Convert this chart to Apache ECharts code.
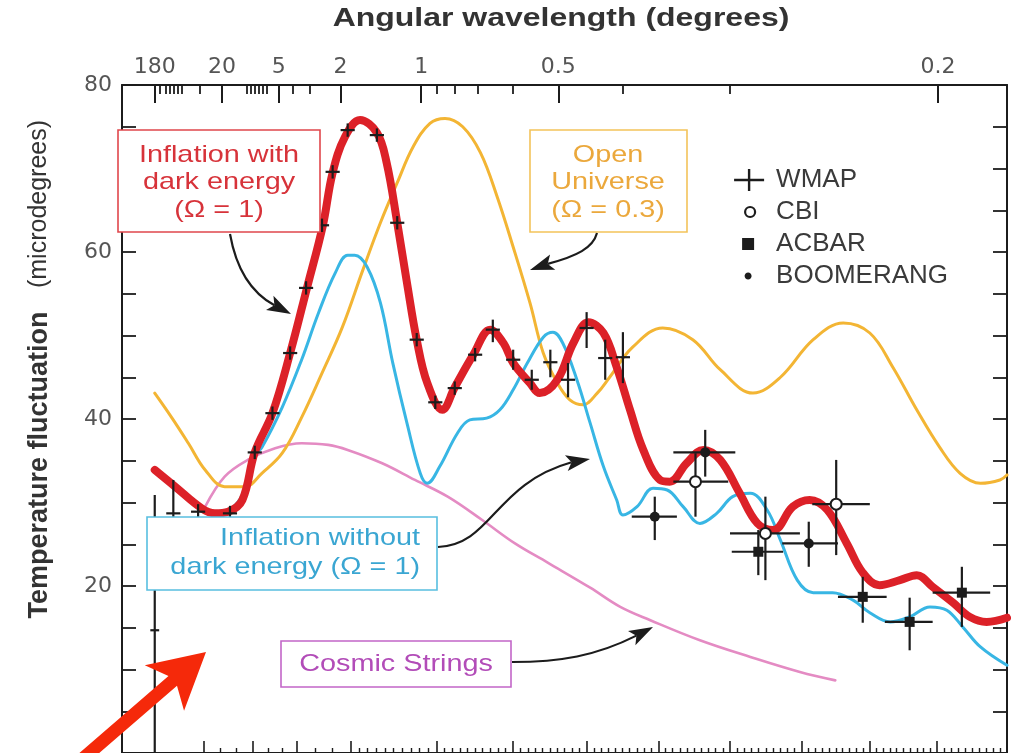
<!DOCTYPE html>
<html>
<head>
<meta charset="utf-8">
<title>CMB temperature fluctuations</title>
<script src="https://cdn.jsdelivr.net/npm/echarts@6/dist/echarts.min.js"></script>
<style>
  html, body { margin: 0; padding: 0; background: #ffffff; }
  #chart { width: 1015px; height: 753px; }
</style>
</head>
<body>
<div id="chart"></div>
<script>
// Horizontal axis: position along the multipole scale, 0-100 across the frame
// (log-like at large angles, linear in multipole at small angles).

// Top axis: angular wavelength in degrees
const angleTicks = [3.7, 11.3, 17.7, 24.7, 33.8, 49.3, 92.2];
const angleLabels = ['180', '20', '5', '2', '1', '0.5', '0.2'];
const angleMinorTicks = [4.3, 4.9, 5.4, 5.8, 6.3, 6.7, 8.8, 14.1, 14.6, 15.0, 15.5, 15.9, 16.4,
  19.3, 21.2, 35.6, 37.6, 40.2, 44.2, 56.6, 68.7];

// Bottom axis: multipole ticks
const multipoleTicks = [9.2, 14.8, 19.8, 25.8, 35.6, 44.2, 52.5, 60.6, 68.7, 76.8, 84.5, 92.1, 100];

// Model curves: [position, microdegrees]
const darkEnergy = [
  [3.7, 33.9], [6.0, 31.9], [9.0, 29.3], [10.5, 28.7], [12.0, 28.9], [13.6, 30.3], [15.0, 36.0],
  [17.0, 40.7], [19.0, 47.9], [20.9, 55.7], [22.7, 63.2], [23.8, 69.5], [25.2, 73.8], [26.9, 75.8],
  [28.8, 74.3], [29.9, 70.7], [31.1, 63.5], [32.2, 56.3], [33.3, 49.5], [34.5, 44.3], [36.2, 41.1],
  [37.6, 43.8], [39.7, 47.7], [41.6, 50.7], [43.1, 49.1], [44.2, 46.7], [46.1, 44.3], [47.2, 43.1],
  [49.2, 44.7], [51.0, 49.1], [52.7, 51.6], [54.4, 50.3], [55.9, 46.2], [57.4, 41.1], [58.9, 36.3],
  [60.8, 32.7], [61.9, 32.5], [63.8, 34.7], [65.7, 36.3], [67.6, 35.1], [69.8, 31.1], [71.8, 27.5],
  [73.6, 26.7], [75.8, 29.5], [77.7, 30.3], [79.7, 29.1], [81.9, 25.1], [83.7, 21.6], [85.6, 20.1],
  [87.9, 20.7], [89.8, 21.3], [91.6, 19.9], [93.9, 18.0], [95.8, 16.3], [97.7, 15.7], [100, 16.2]
];
const noDarkEnergy = [
  [3.7, 33.9], [6.0, 31.9], [9.0, 29.3], [10.5, 28.7], [12.0, 29.0], [13.6, 30.9], [15.0, 35.7],
  [15.8, 36.6], [18.1, 41.4], [20.3, 47.1], [22.2, 52.7], [24.1, 57.5], [25.5, 59.6], [26.3, 59.6],
  [27.7, 58.2], [29.2, 53.9], [30.6, 46.7], [32.2, 39.5], [33.7, 33.5], [34.5, 32.3], [35.9, 34.3],
  [37.9, 38.3], [39.3, 39.9], [41.2, 40.1], [42.7, 41.1], [44.2, 43.5], [45.8, 46.7], [47.6, 49.8],
  [48.7, 50.4], [49.8, 49.1], [51.4, 44.7], [52.9, 39.5], [54.4, 34.3], [55.9, 30.3], [56.6, 28.5],
  [58.2, 29.5], [60.0, 31.7], [61.6, 31.5], [63.4, 29.5], [65.3, 27.5], [67.2, 28.7], [69.0, 30.7],
  [71.0, 31.1], [72.9, 29.1], [74.4, 25.5], [76.3, 20.7], [78.1, 19.2], [80.3, 19.2], [82.6, 18.3],
  [84.5, 16.8], [86.8, 15.7], [89.0, 16.3], [91.3, 17.5], [93.2, 17.1], [95.0, 15.1], [97.0, 12.7],
  [100, 10.5]
];
const openUniverse = [
  [3.7, 43.1], [5.6, 40.2], [7.5, 37.1], [9.4, 33.9], [11.6, 31.9], [13.9, 31.9], [15.8, 33.5],
  [18.1, 35.9], [20.3, 40.2], [22.6, 45.5], [24.9, 51.0], [27.2, 57.8], [29.2, 63.5], [31.1, 68.3],
  [32.9, 72.6], [34.8, 75.4], [36.5, 76.0], [38.5, 75.0], [40.5, 71.9], [42.4, 66.6], [44.2, 60.6],
  [46.1, 53.9], [47.6, 47.9], [49.2, 44.3], [50.6, 42.3], [52.1, 41.7], [53.7, 43.1], [55.1, 45.0],
  [57.7, 48.6], [61.1, 50.9], [64.5, 49.5], [67.6, 45.9], [71.3, 43.1], [74.4, 45.0], [78.1, 49.5],
  [81.5, 51.5], [84.5, 50.3], [87.1, 46.2], [89.8, 41.1], [92.4, 36.6], [94.7, 33.5], [97.0, 32.3],
  [99.2, 32.7], [100, 33.3]
];
const cosmicStrings = [
  [9.4, 29.5], [11.6, 33.1], [14.2, 35.1], [17.3, 36.5], [20.3, 37.1], [23.3, 36.9], [25.5, 36.3],
  [29.4, 34.7], [33.1, 32.7], [36.8, 30.7], [40.7, 27.9], [44.4, 25.1], [48.1, 22.8], [52.9, 19.8],
  [56.3, 17.5], [59.7, 15.9], [65.3, 13.5], [71.0, 11.5], [76.6, 9.7], [80.6, 8.7]
];

// Measurements: [position, value, posLow, posHigh, valueLow, valueHigh]
const wmap = [
  [3.7, 14.7, 3.2, 4.2, 0, 30.9], [5.8, 28.7, 5.0, 6.6, 24.8, 32.7], [8.6, 28.9, 7.8, 9.4, 28.0, 29.8],
  [12.2, 28.7, 11.4, 13.0, 27.8, 29.6], [15.0, 36.0, 14.2, 15.8, 35.2, 36.8],
  [17.0, 40.7, 16.2, 17.8, 39.9, 41.5], [19.0, 47.9, 18.2, 19.8, 47.1, 48.7],
  [20.8, 55.7, 20.0, 21.6, 54.9, 56.5], [22.6, 63.2, 21.8, 23.4, 62.4, 64.0],
  [23.8, 69.6, 23.0, 24.6, 68.8, 70.4], [25.5, 74.6, 24.7, 26.3, 73.8, 75.4],
  [28.8, 74.0, 28.0, 29.6, 73.2, 74.8], [31.1, 63.5, 30.3, 31.9, 62.7, 64.3],
  [33.3, 49.5, 32.5, 34.1, 48.7, 50.3], [35.4, 42.0, 34.6, 36.2, 41.2, 42.8],
  [37.6, 43.7, 36.8, 38.4, 42.9, 44.5], [39.9, 47.7, 39.1, 40.7, 46.9, 48.5],
  [41.9, 50.7, 41.1, 42.7, 49.2, 51.9], [44.2, 47.1, 43.4, 45.0, 45.9, 48.3],
  [46.3, 44.7, 45.5, 47.1, 43.5, 45.9], [48.4, 46.8, 47.6, 49.2, 45.0, 48.3],
  [50.4, 44.7, 49.6, 51.2, 42.6, 46.7], [52.5, 50.9, 51.7, 53.3, 48.5, 52.8],
  [54.6, 47.3, 53.8, 55.4, 44.7, 49.5], [56.6, 47.4, 55.8, 57.4, 44.3, 50.4]
];
const cbi = [
  [64.8, 32.5, 62.3, 68.5, 28.3, 35.9], [72.7, 26.3, 68.7, 76.6, 20.7, 30.7],
  [80.7, 29.8, 78.0, 84.5, 23.7, 35.1]
];
const acbar = [
  [71.9, 24.1, 68.9, 74.7, 21.3, 26.7], [83.7, 18.7, 80.9, 86.4, 15.6, 21.1],
  [89.0, 15.7, 86.2, 91.6, 12.3, 18.6], [94.9, 19.2, 91.6, 98.1, 15.1, 22.3]
];
const boomerang = [
  [60.2, 28.3, 57.6, 62.7, 25.5, 30.7], [65.9, 36.0, 62.3, 69.3, 33.1, 38.7],
  [77.6, 25.1, 74.6, 80.9, 22.3, 27.7]
];

const INK = '#1c1c1c';
const SANS = '"Liberation Sans", Arial, Helvetica, sans-serif';
const TICK_FONT = '"DejaVu Sans", sans-serif';

// Error bars plus a marker, drawn through the axes' coordinate system
function errorBarRenderer(marker) {
  return function (params, api) {
    const c = api.coord([api.value(0), api.value(1)]);
    const xl = api.coord([api.value(2), api.value(1)]);
    const xh = api.coord([api.value(3), api.value(1)]);
    const yl = api.coord([api.value(0), api.value(4)]);
    const yh = api.coord([api.value(0), api.value(5)]);
    const stroke = { stroke: INK, lineWidth: 2.2 };
    const children = [
      { type: 'line', shape: { x1: xl[0], y1: c[1], x2: xh[0], y2: c[1] }, style: stroke },
      { type: 'line', shape: { x1: c[0], y1: yl[1], x2: c[0], y2: yh[1] }, style: stroke }
    ];
    if (marker === 'open') {
      children.push({ type: 'circle', shape: { cx: c[0], cy: c[1], r: 5.5 },
        style: { fill: '#ffffff', stroke: INK, lineWidth: 2 } });
    } else if (marker === 'square') {
      children.push({ type: 'rect', shape: { x: c[0] - 5, y: c[1] - 5, width: 10, height: 10 },
        style: { fill: INK } });
    } else if (marker === 'dot') {
      children.push({ type: 'circle', shape: { cx: c[0], cy: c[1], r: 5 }, style: { fill: INK } });
    }
    return { type: 'group', children: children };
  };
}

function measurementSeries(name, data, marker) {
  return {
    name: name, type: 'custom', data: data, z: 6, clip: false,
    encode: { x: 0, y: 1 },
    itemStyle: { color: INK },
    renderItem: errorBarRenderer(marker)
  };
}

function curveSeries(name, data, color, width, z) {
  return {
    name: name, type: 'line', data: data, z: z, smooth: 0.38,
    showSymbol: false, symbol: 'none', silent: true,
    lineStyle: { color: color, width: width, cap: 'round', join: 'round' }
  };
}

// Labelled boxes for the model curves
function labelBox(rect, border, color, lines, anchor) {
  const items = [{
    type: 'rect', shape: rect, z: 20,
    style: { fill: '#ffffff', stroke: border, lineWidth: 1.6 }
  }];
  lines.forEach(function (ln) {
    items.push({
      type: 'text', x: ln[1], y: ln[2], scaleX: 1.2, z: 21,
      style: { text: ln[0], fill: color, fontSize: 24, fontFamily: SANS,
        align: anchor, verticalAlign: 'middle', x: 0, y: 0 }
    });
  });
  return items;
}

// Curved black pointer from a label to its curve
function pointer(p0, c1, c2, p3, tip) {
  const dx = tip[0] - p3[0], dy = tip[1] - p3[1];
  const len = Math.hypot(dx, dy);
  const ux = dx / len, uy = dy / len, nx = -uy, ny = ux;
  const L = 24, W = 8;
  const bx = tip[0] - L * ux, by = tip[1] - L * uy;
  const notch = [tip[0] - 0.78 * L * ux, tip[1] - 0.78 * L * uy];
  return [
    { type: 'bezierCurve', z: 22,
      shape: { x1: p0[0], y1: p0[1], cpx1: c1[0], cpy1: c1[1], cpx2: c2[0], cpy2: c2[1], x2: notch[0], y2: notch[1] },
      style: { stroke: INK, lineWidth: 2.2, fill: null } },
    { type: 'polygon', z: 22,
      shape: { points: [tip, [bx + W * nx, by + W * ny], notch, [bx - W * nx, by - W * ny]] },
      style: { fill: INK } }
  ];
}

// Large red call-out arrow in the lower left corner
function bigArrow(tail, tip) {
  const dx = tip[0] - tail[0], dy = tip[1] - tail[1];
  const len = Math.hypot(dx, dy);
  const ux = dx / len, uy = dy / len, nx = -uy, ny = ux;
  const L = 55, W = 30, S = 6.5;
  const b = [tip[0] - L * ux, tip[1] - L * uy];
  const n = [tip[0] - 0.8 * L * ux, tip[1] - 0.8 * L * uy];
  return {
    type: 'polygon', z: 30,
    shape: { points: [
      tip,
      [b[0] + W * nx, b[1] + W * ny],
      [n[0] + S * nx, n[1] + S * ny],
      [tail[0] + S * nx, tail[1] + S * ny],
      [tail[0] - S * nx, tail[1] - S * ny],
      [n[0] - S * nx, n[1] - S * ny],
      [b[0] - W * nx, b[1] - W * ny]
    ] },
    style: { fill: '#f5290a' }
  };
}

// Minor multipole ticks between the labelled ones
const multipoleMinorTicks = [];
for (let i = 0; i < multipoleTicks.length - 1; i++) {
  const a = multipoleTicks[i], b = multipoleTicks[i + 1];
  const parts = a < 25 ? 3 : 10;
  for (let k = 1; k < parts; k++) multipoleMinorTicks.push(+(a + (b - a) * k / parts).toFixed(2));
}

const axisLineStyle = { color: INK, width: 2 };

const option = {
  animation: false,
  backgroundColor: '#ffffff',
  grid: { left: 122, right: 8, top: 85, bottom: 0, containLabel: false, outerBoundsMode: 'none' },
  xAxis: [
    { type: 'value', min: 0, max: 100, position: 'bottom',
      axisLine: { show: true, onZero: false, lineStyle: axisLineStyle },
      axisTick: { show: true, inside: true, length: 12, customValues: multipoleTicks, lineStyle: { color: INK, width: 1.6 } },
      axisLabel: { show: false }, splitLine: { show: false } },
    { type: 'value', min: 0, max: 100, position: 'bottom',
      axisLine: { show: false, onZero: false },
      axisTick: { show: true, inside: true, length: 5, customValues: multipoleMinorTicks, lineStyle: { color: INK, width: 1.4 } },
      axisLabel: { show: false }, splitLine: { show: false } },
    { type: 'value', min: 0, max: 100, position: 'top',
      axisLine: { show: true, onZero: false, lineStyle: axisLineStyle },
      axisTick: { show: true, inside: true, length: 18, customValues: angleTicks, lineStyle: { color: INK, width: 2 } },
      axisLabel: { show: true, customValues: angleTicks, margin: 7, fontSize: 22, color: '#555555', fontFamily: TICK_FONT,
        formatter: function (v) { return angleLabels[angleTicks.indexOf(v)]; } },
      splitLine: { show: false } },
    { type: 'value', min: 0, max: 100, position: 'top',
      axisLine: { show: false, onZero: false },
      axisTick: { show: true, inside: true, length: 9, customValues: angleMinorTicks, lineStyle: { color: INK, width: 1.8 } },
      axisLabel: { show: false }, splitLine: { show: false } }
  ],
  yAxis: [
    { type: 'value', min: 0, max: 80, interval: 5, position: 'left',
      axisLine: { show: true, onZero: false, lineStyle: axisLineStyle },
      axisTick: { show: true, inside: true, length: 14, lineStyle: { color: INK, width: 1.8 } },
      axisLabel: { margin: 10, fontSize: 22, color: '#555555', fontFamily: TICK_FONT,
        formatter: function (v) { return (v > 0 && v % 20 === 0) ? String(v) : ''; } },
      splitLine: { show: false } },
    { type: 'value', min: 0, max: 80, interval: 5, position: 'right',
      axisLine: { show: true, onZero: false, lineStyle: axisLineStyle },
      axisTick: { show: true, inside: true, length: 14, lineStyle: { color: INK, width: 1.8 } },
      axisLabel: { show: false }, splitLine: { show: false } }
  ],
  legend: {
    orient: 'vertical', left: 728, top: 162, itemWidth: 30, itemHeight: 22, itemGap: 6,
    selectedMode: false,
    textStyle: { fontSize: 26, lineHeight: 26, color: '#3a3a3a', fontFamily: SANS, padding: [0, 0, 0, 7] },
    data: [
      { name: 'WMAP', icon: 'path://M13.8,0h2.4v9.8h13.8v2.4h-13.8v9.8h-2.4v-9.8h-13.8v-2.4h13.8z',
        itemStyle: { color: INK, borderWidth: 0 } },
      { name: 'CBI',
        icon: 'path://M0,0M30,22M21,11C21,13.76 18.76,16 16,16C13.24,16 11,13.76 11,11C11,8.24 13.24,6 16,6C18.76,6 21,8.24 21,11z',
        itemStyle: { color: '#ffffff', borderColor: INK, borderWidth: 2.2 } },
      { name: 'ACBAR', icon: 'path://M0,0M30,22M8,5h12v12h-12z',
        itemStyle: { color: INK, borderWidth: 0 } },
      { name: 'BOOMERANG',
        icon: 'path://M0,0M30,22M17.5,11C17.5,12.93 15.93,14.5 14,14.5C12.07,14.5 10.5,12.93 10.5,11C10.5,9.07 12.07,7.5 14,7.5C15.93,7.5 17.5,9.07 17.5,11z',
        itemStyle: { color: INK, borderWidth: 0 } }
    ]
  },
  series: [
    curveSeries('Cosmic Strings', cosmicStrings, '#e48bc3', 2.6, 1),
    curveSeries('Open Universe', openUniverse, '#f3b534', 3, 2),
    curveSeries('Inflation without dark energy', noDarkEnergy, '#38b6e4', 3, 3),
    curveSeries('Inflation with dark energy', darkEnergy, '#dc2128', 8, 4),
    measurementSeries('WMAP', wmap, 'cross'),
    measurementSeries('CBI', cbi, 'open'),
    measurementSeries('ACBAR', acbar, 'square'),
    measurementSeries('BOOMERANG', boomerang, 'dot')
  ],
  graphic: [].concat(
    [{ type: 'text', x: 561, y: 19, scaleX: 1.23, z: 20,
       style: { text: 'Angular wavelength (degrees)', x: 0, y: 0, fill: '#333333',
         fontSize: 26, fontWeight: 'bold', fontFamily: SANS, align: 'center', verticalAlign: 'middle' } },
     { type: 'text', x: 40, y: 465, rotation: Math.PI / 2, z: 20,
       style: { text: 'Temperature fluctuation', x: 0, y: 0, fill: '#333333',
         fontSize: 27, fontWeight: 'bold', fontFamily: SANS, align: 'center', verticalAlign: 'middle' } },
     { type: 'text', x: 39, y: 204, rotation: Math.PI / 2, z: 20,
       style: { text: '(microdegrees)', x: 0, y: 0, fill: '#333333',
         fontSize: 25, fontFamily: SANS, align: 'center', verticalAlign: 'middle' } }],
    labelBox({ x: 118, y: 130, width: 202, height: 102 }, '#e0474c', '#d7333a',
      [['Inflation with', 219, 155], ['dark energy', 219, 182], ['(\u03A9 = 1)', 219, 210]], 'center'),
    labelBox({ x: 530, y: 130, width: 157, height: 102 }, '#f3c35a', '#eba83c',
      [['Open', 608, 155], ['Universe', 608, 182], ['(\u03A9 = 0.3)', 608, 210]], 'center'),
    labelBox({ x: 147, y: 517, width: 290, height: 73 }, '#58bfe0', '#3aa6d2',
      [['Inflation without', 420, 538], ['dark energy (\u03A9 = 1)', 420, 567]], 'right'),
    labelBox({ x: 281, y: 641, width: 230, height: 46 }, '#c266c8', '#b24cb8',
      [['Cosmic Strings', 396, 664]], 'center'),
    pointer([230, 234], [236, 268], [250, 292], [270, 303], [291, 314]),
    pointer([597, 233], [593, 248], [577, 256], [556, 261], [530, 270]),
    pointer([438, 547], [492, 545], [494, 484], [562, 464], [590, 459]),
    pointer([512, 662], [560, 662], [596, 656], [628, 640], [653, 627]),
    [bigArrow([72, 768], [206, 652])]
  )
};

const chart = echarts.init(document.getElementById('chart'), null, { renderer: 'canvas' });
chart.setOption(option);
</script>
</body>
</html>
